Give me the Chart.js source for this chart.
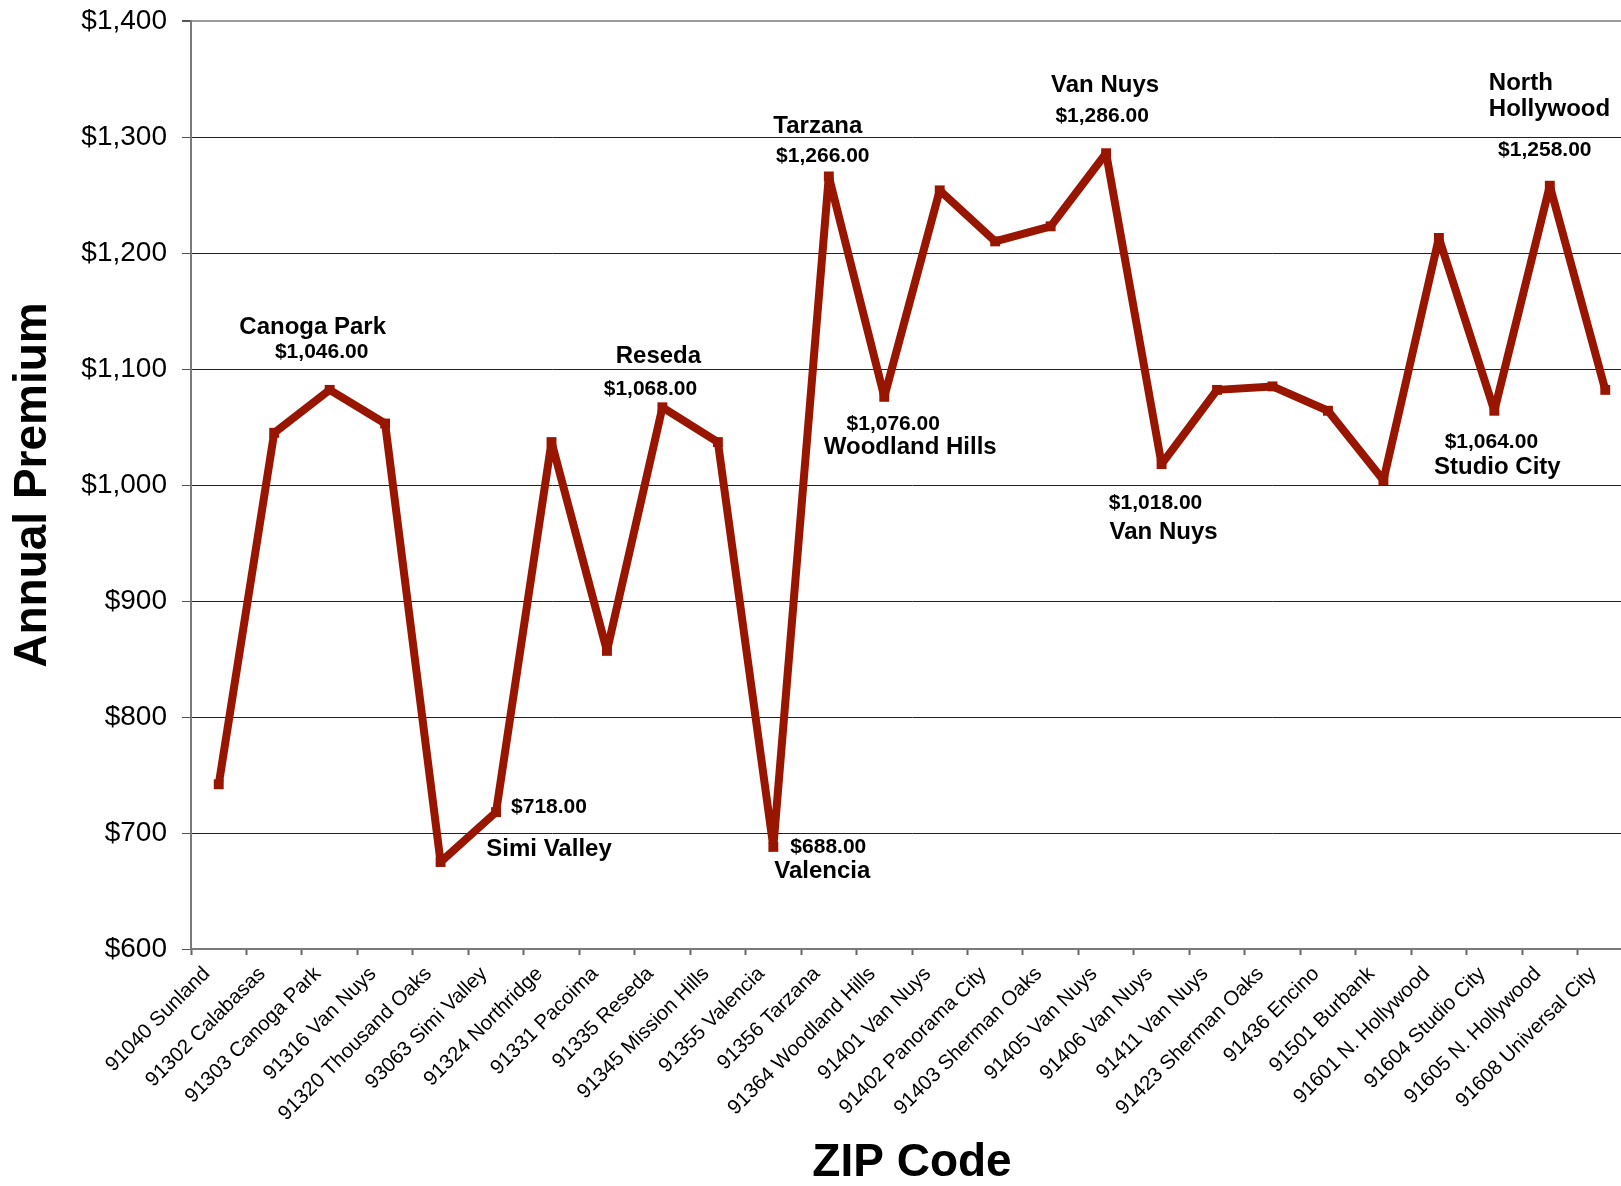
<!DOCTYPE html>
<html>
<head>
<meta charset="utf-8">
<title>Annual Premium by ZIP Code</title>
<script src="https://cdn.jsdelivr.net/npm/chart.js@4.4.1/dist/chart.umd.min.js"></script>
<style>
  html, body { margin: 0; padding: 0; overflow: hidden; background: #fff; }
  /* le graphique d'origine est coupé à droite : le canvas déborde un peu */
  #wrap { width: 1640px; height: 1186px; }
</style>
</head>
<body>
<div id="wrap"><canvas id="premium-chart"></canvas></div>
<script>
// 1. Données
const zipCodes = [
    "91040 Sunland", "91302 Calabasas", "91303 Canoga Park", "91316 Van Nuys",
    "91320 Thousand Oaks", "93063 Simi Valley", "91324 Northridge", "91331 Pacoima",
    "91335 Reseda", "91345 Mission Hills", "91355 Valencia", "91356 Tarzana",
    "91364 Woodland Hills", "91401 Van Nuys", "91402 Panorama City", "91403 Sherman Oaks",
    "91405 Van Nuys", "91406 Van Nuys", "91411 Van Nuys", "91423 Sherman Oaks",
    "91436 Encino", "91501 Burbank", "91601 N. Hollywood", "91604 Studio City",
    "91605 N. Hollywood", "91608 Universal City"
];
const premiums = [
    742, 1045, 1082, 1053, 675, 718, 1037, 857, 1067, 1037, 688, 1266, 1076,
    1254, 1210, 1223, 1286, 1018, 1082, 1085, 1064, 1004, 1213, 1064, 1258, 1082
];
const yMin = 600;
const yMax = 1400;
const yStep = 100;

// 2. Étiquettes (point concerné, ville, prix affiché)
const calloutIndex = [2, 8, 11, 16, 24, 12, 17, 23, 5, 10];
const calloutCity = [
    "Canoga Park", "Reseda", "Tarzana", "Van Nuys", "North\nHollywood",
    "Woodland Hills", "Van Nuys", "Studio City", "Simi Valley", "Valencia"
];
const calloutPrice = [
    "$1,046.00", "$1,068.00", "$1,266.00", "$1,286.00", "$1,258.00",
    "$1,076.00", "$1,018.00", "$1,064.00", "$718.00", "$688.00"
];

// décalages en pixels par rapport au point (style, pas des données)
const calloutLayout = [
    { city: [-17, -63, "center"], price: [-8, -38, "center"] },
    { city: [-4, -51, "center"],  price: [-12, -18, "center"] },
    { city: [-11, -50, "center"], price: [-6, -20, "center"] },
    { city: [-1, -68, "center"],  price: [-4, -37, "center"] },
    { city: [-61, -102, "left"],  price: [-5, -36, "center"] },
    { city: [26, 51, "center"],   price: [9, 27, "center"] },
    { city: [2, 68, "center"],    price: [-6, 39, "center"] },
    { city: [3, 57, "center"],    price: [-3, 31, "center"] },
    { city: [53, 37, "center"],   price: [15, -5, "left"] },
    { city: [49, 24, "center"],   price: [17, 0, "left"] }
];

const FONT = "'Liberation Sans', Arial, sans-serif";
const RED = "#981500";

// 3. Plugin pour dessiner les étiquettes
const calloutPlugin = {
    id: "callouts",
    afterDatasetsDraw(chart) {
        const ctx = chart.ctx;
        const points = chart.getDatasetMeta(0).data;
        ctx.save();
        ctx.fillStyle = "#000";
        ctx.textBaseline = "middle";
        calloutIndex.forEach((idx, i) => {
            const p = points[idx];
            const lay = calloutLayout[i];

            // nom de la ville (peut être sur deux lignes)
            ctx.font = "bold 24px " + FONT;
            ctx.textAlign = lay.city[2];
            calloutCity[i].split("\n").forEach((line, n) => {
                ctx.fillText(line, p.x + lay.city[0], p.y + lay.city[1] + n * 26);
            });

            // prix
            ctx.font = "bold 21px " + FONT;
            ctx.textAlign = lay.price[2];
            ctx.fillText(calloutPrice[i], p.x + lay.price[0], p.y + lay.price[1]);
        });
        ctx.restore();
    }
};

// 4. Création du graphique
const ctx = document.getElementById("premium-chart").getContext("2d");
new Chart(ctx, {
    type: "line",
    data: {
        labels: zipCodes,
        datasets: [{
            data: premiums,
            borderColor: RED,
            backgroundColor: RED,
            borderWidth: 8,
            borderJoinStyle: "bevel",
            tension: 0,
            pointStyle: "rect",
            pointRadius: 7,
            pointBorderWidth: 0,
            pointBackgroundColor: RED,
            clip: false
        }]
    },
    options: {
        responsive: true,
        maintainAspectRatio: false,
        animation: false,
        events: [],
        layout: { padding: { left: 0, right: 2, top: 21, bottom: 0 } },
        plugins: {
            legend: { display: false },
            tooltip: { enabled: false }
        },
        scales: {
            x: {
                type: "category",
                offset: true,
                afterFit(scale) { scale.height = 237; },
                grid: {
                    offset: true,
                    drawOnChartArea: false,
                    drawTicks: true,
                    tickLength: 6,
                    tickColor: "#666",
                    tickWidth: 2
                },
                border: { color: "#7a7a7a", width: 2 },
                ticks: {
                    autoSkip: false,
                    minRotation: 45,
                    maxRotation: 45,
                    labelOffset: -12,
                    padding: 7,
                    color: "#000",
                    font: { family: FONT, size: 20.5 }
                },
                title: {
                    display: true,
                    text: "ZIP Code",
                    color: "#000",
                    padding: { top: 0, bottom: 0 },
                    font: { family: FONT, size: 46, weight: "bold", lineHeight: 1 }
                }
            },
            y: {
                min: yMin,
                max: yMax,
                afterFit(scale) {
                    scale.width = 191;
                    // pas de marge en plus pour la première / dernière étiquette
                    scale.paddingTop = 0;
                    scale.paddingBottom = 0;
                },
                grid: {
                    drawTicks: true,
                    tickLength: 9,
                    color: (c) => c.tick && c.tick.value === yMax ? "#9a9a9a" : "#222",
                    lineWidth: (c) => c.tick && c.tick.value === yMax ? 2 : 1,
                    tickColor: "#555"
                },
                border: { color: "#7a7a7a", width: 2 },
                ticks: {
                    stepSize: yStep,
                    padding: 15,
                    color: "#000",
                    font: { family: FONT, size: 28 },
                    callback: (v) => "$" + v.toLocaleString("en-US")
                },
                title: {
                    display: true,
                    text: "Annual Premium",
                    color: "#000",
                    padding: { top: 10, bottom: 0 },
                    font: { family: FONT, size: 46, weight: "bold", lineHeight: 1 }
                }
            }
        }
    },
    plugins: [calloutPlugin]
});
</script>
</body>
</html>
